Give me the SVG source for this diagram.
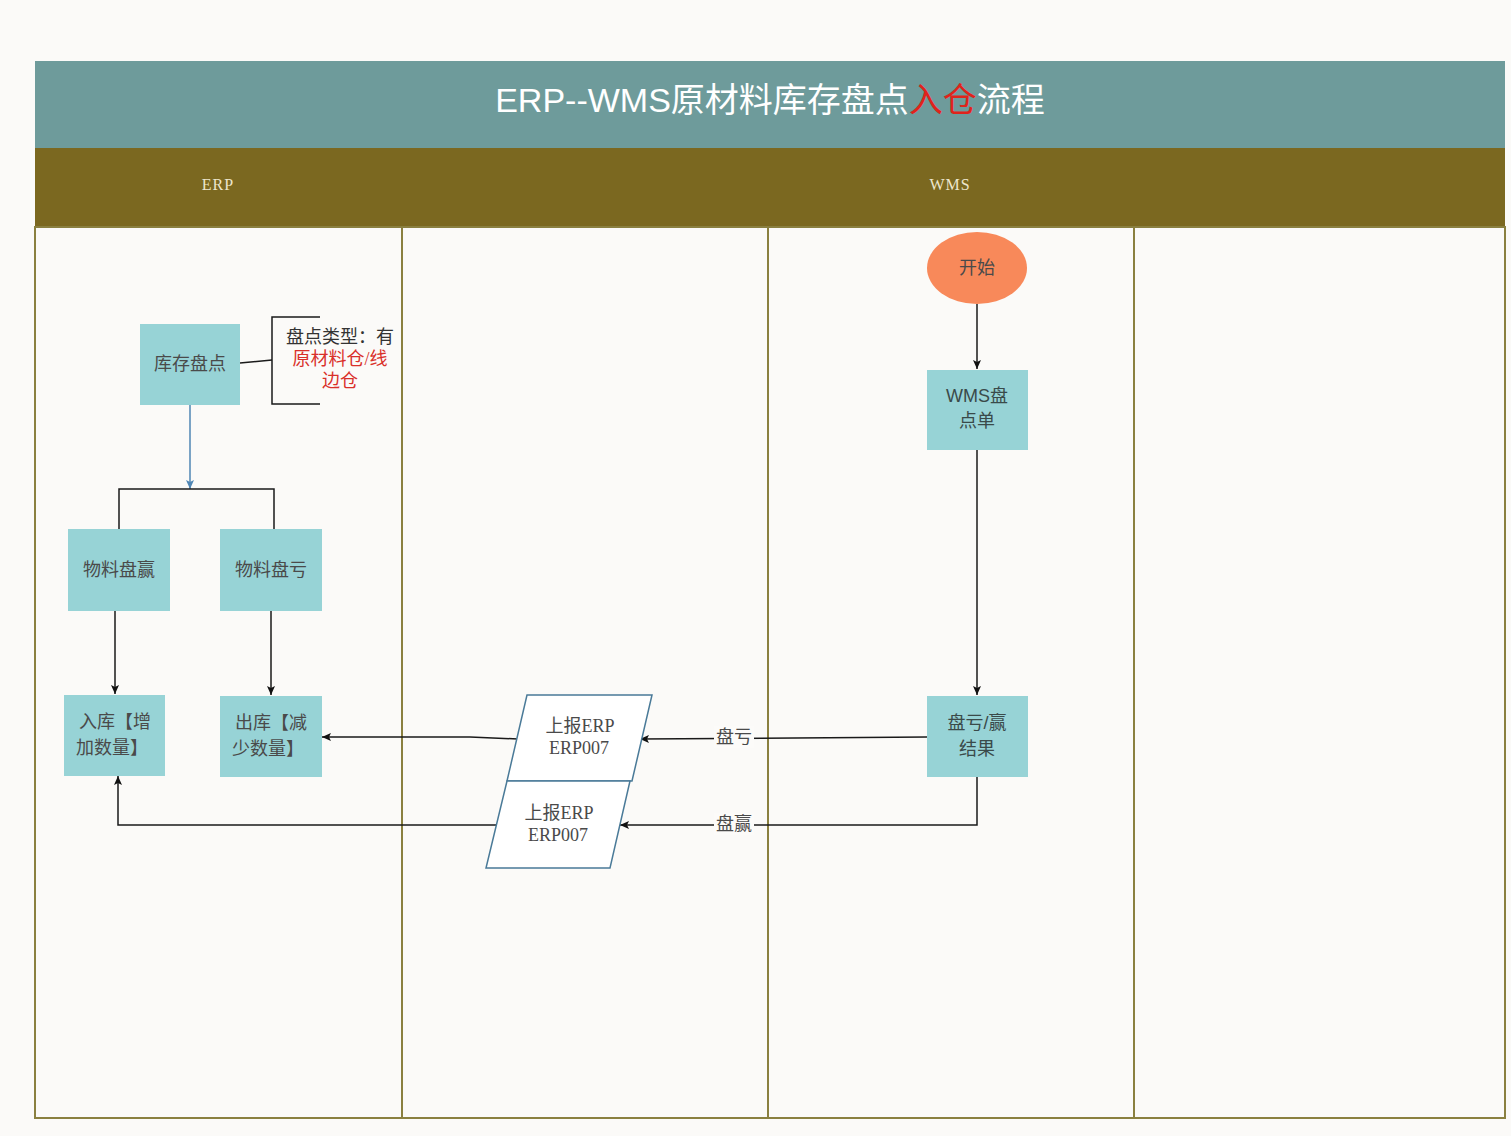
<svg xmlns="http://www.w3.org/2000/svg" width="1511" height="1136" viewBox="0 0 1511 1136">
<style>
.node{fill:#97D3D6;}
.t{font-family:"Liberation Serif","Noto Sans CJK SC",serif;font-size:18px;fill:#4a4a4a;text-anchor:middle;}
.ts{font-family:"Liberation Sans","Noto Sans CJK SC",sans-serif;font-size:18px;fill:#3a4a4a;text-anchor:middle;}
.lane{fill:none;stroke:#8A8040;stroke-width:2;}
.c{fill:none;stroke:#1a1a1a;stroke-width:1.5;}
</style>
<defs>
<marker id="ah" markerWidth="10" markerHeight="10" refX="9" refY="5" orient="auto" markerUnits="userSpaceOnUse">
<path d="M0,1 L9,5 L0,9 L2,5 Z" fill="#111"/>
</marker>
<marker id="ahb" markerWidth="10" markerHeight="10" refX="9" refY="5" orient="auto" markerUnits="userSpaceOnUse">
<path d="M0,1 L9,5 L0,9 L2,5 Z" fill="#4F86B5"/>
</marker>
</defs>
<rect x="0" y="0" width="1511" height="1136" fill="#FBFAF8"/>
<g id="pool">
<rect x="35" y="61" width="1470" height="87" fill="#6E9B9B"/>
<rect x="35" y="148" width="1470" height="79" fill="#7B6820"/>
<rect x="35" y="227" width="1470" height="891" fill="#FCFBF9" class="lane"/>
<line x1="402" y1="227" x2="402" y2="1118" class="lane"/>
<line x1="768" y1="227" x2="768" y2="1118" class="lane"/>
<line x1="1134" y1="227" x2="1134" y2="1118" class="lane"/>
<text x="770" y="112" font-family="Liberation Sans,'Noto Sans CJK SC',sans-serif" font-size="34" fill="#FFFFFF" text-anchor="middle">ERP--WMS原材料库存盘点<tspan fill="#E0231B">入仓</tspan>流程</text>
<text x="218" y="190" font-family="Liberation Serif,serif" font-size="16" letter-spacing="1" fill="#EDE6CC" text-anchor="middle">ERP</text>
<text x="950" y="190" font-family="Liberation Serif,serif" font-size="16" letter-spacing="1" fill="#EDE6CC" text-anchor="middle">WMS</text>
</g>
<g id="connectors">
<line x1="190" y1="405" x2="190" y2="489" fill="none" stroke="#4F86B5" stroke-width="1.5" marker-end="url(#ahb)"/>
<polyline points="119,529 119,489 274,489 274,529" class="c"/>
<line x1="115" y1="611" x2="115" y2="694" class="c" marker-end="url(#ah)"/>
<line x1="271" y1="611" x2="271" y2="695" class="c" marker-end="url(#ah)"/>
<line x1="977" y1="304" x2="977" y2="369" class="c" marker-end="url(#ah)"/>
<line x1="977" y1="450" x2="977" y2="695" class="c" marker-end="url(#ah)"/>
<polyline points="927,737 640,739" class="c" marker-end="url(#ah)"/>
<polyline points="518,739 470,737 322,737" class="c" marker-end="url(#ah)"/>
<polyline points="977,777 977,825 620,825" class="c" marker-end="url(#ah)"/>
<polyline points="497,825 118,825 118,776" class="c" marker-end="url(#ah)"/>
<polyline points="240,363 272,360" class="c"/>
<polyline points="320,317 272,317 272,404 320,404" class="c"/>
<rect x="714" y="726" width="40" height="22" fill="#FCFBF9"/>
<text x="734" y="743" class="t">盘亏</text>
<rect x="714" y="813" width="40" height="22" fill="#FCFBF9"/>
<text x="734" y="830" class="t">盘赢</text>
</g>
<g id="start">
<ellipse cx="977" cy="268" rx="50" ry="36" fill="#F8895A"/>
<text x="977" y="274" class="t">开始</text>
</g>
<g id="wms-order">
<rect x="927" y="370" width="101" height="80" class="node"/>
<text x="977" y="402" class="ts">WMS盘</text>
<text x="977" y="427" class="ts">点单</text>
</g>
<g id="result">
<rect x="927" y="696" width="101" height="81" class="node"/>
<text x="977" y="729" class="ts">盘亏/赢</text>
<text x="977" y="755" class="ts">结果</text>
</g>
<g id="inventory">
<rect x="140" y="324" width="100" height="81" class="node"/>
<text x="190" y="370" class="t">库存盘点</text>
</g>
<g id="note">
<text x="340" y="343" class="t" style="fill:#333">盘点类型：有</text>
<text x="340" y="365" class="t" style="fill:#D9302A">原材料仓/线</text>
<text x="340" y="387" class="t" style="fill:#D9302A">边仓</text>
</g>
<g id="gain">
<rect x="68" y="529" width="102" height="82" class="node"/>
<text x="119" y="576" class="t">物料盘赢</text>
</g>
<g id="loss">
<rect x="220" y="529" width="102" height="82" class="node"/>
<text x="271" y="576" class="t">物料盘亏</text>
</g>
<g id="stock-in">
<rect x="64" y="695" width="101" height="81" class="node"/>
<text x="115" y="728" class="t">入库【增</text>
<text x="112" y="754" class="t">加数量】</text>
</g>
<g id="stock-out">
<rect x="220" y="696" width="102" height="81" class="node"/>
<text x="271" y="729" class="t">出库【减</text>
<text x="268" y="755" class="t">少数量】</text>
</g>
<g id="report1">
<polygon points="527,695 652,695 632,781 507,781" fill="#FFFFFF" stroke="#4A7A98" stroke-width="1.5"/>
<text x="580" y="732" class="t">上报ERP</text>
<text x="579" y="754" class="t">ERP007</text>
</g>
<g id="report2">
<polygon points="507,781 630,781 610,868 486,868" fill="#FFFFFF" stroke="#4A7A98" stroke-width="1.5"/>
<text x="559" y="819" class="t">上报ERP</text>
<text x="558" y="841" class="t">ERP007</text>
</g>
</svg>
